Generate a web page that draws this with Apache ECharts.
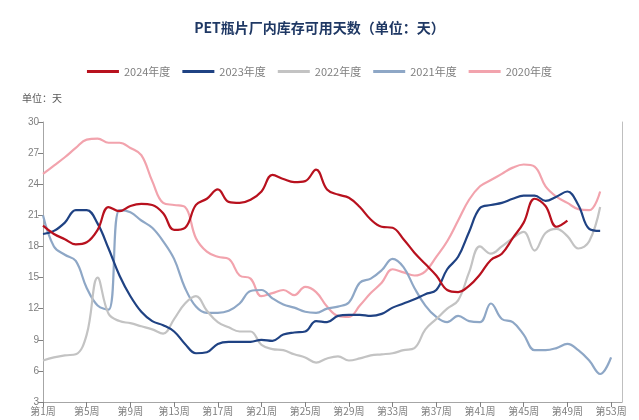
<!DOCTYPE html>
<html>
<head>
<meta charset="utf-8">
<title>PET瓶片厂内库存可用天数</title>
<script src="https://cdn.jsdelivr.net/npm/echarts@6/dist/echarts.min.js"></script>
<style>
  html, body { margin: 0; padding: 0; background: #fff; }
  #main { width: 639px; height: 420px; }
</style>
</head>
<body>
<div id="main"></div>
<script>
// 周次
var weeks = [];
for (var i = 1; i <= 54; i++) {
  weeks.push("第" + i + "周");
}

var yTicks = [3, 30, 3]; // min, max, interval

var s2024 = [20.0, 19.2, 18.7, 18.2, 18.4, 19.6, 21.8, 21.4, 21.9, 22.1,
  22.0, 21.2, 19.6, 19.8, 22.0, 22.6, 23.5, 22.3, 22.2, 22.5,
  23.3, 24.9, 24.5, 24.2, 24.3, 25.4, 23.5, 23.0, 22.7, 21.8,
  20.6, 19.9, 19.8, 18.7, 17.4, 16.3, 15.2, 13.8, 13.6, 14.2,
  15.3, 16.7, 17.3, 18.8, 20.3, 22.6, 21.9, 19.9, 20.5];

var s2023 = [19.2, 19.5, 20.3, 21.5, 21.5, 20.2, 17.8, 15.2, 13.2, 11.7,
  10.8, 10.4, 9.8, 8.6, 7.7, 7.8, 8.6, 8.8, 8.8, 8.8,
  9.0, 8.9, 9.5, 9.7, 9.8, 10.8, 10.7, 11.3, 11.4, 11.4,
  11.3, 11.5, 12.1, 12.5, 12.9, 13.4, 13.8, 15.8, 17.0, 19.4,
  21.7, 22.0, 22.2, 22.6, 22.9, 22.9, 22.4, 22.8, 23.3, 22.0,
  19.7, 19.5];

var s2022 = [7.0, 7.3, 7.5, 7.6, 9.5, 15.0, 11.5, 10.8, 10.6, 10.3,
  10.0, 9.6, 11.0, 12.5, 13.2, 11.8, 10.7, 10.2, 9.8, 9.8,
  8.5, 8.1, 8.0, 7.6, 7.3, 6.8, 7.2, 7.4, 7.0, 7.2,
  7.5, 7.6, 7.7, 8.0, 8.2, 10.0, 11.0, 12.0, 12.8, 15.5,
  18.0, 17.3, 18.0, 18.8, 19.4, 17.6, 19.3, 19.7, 19.0, 17.8,
  18.5, 21.8];

var s2021 = [21.0, 18.0, 17.2, 16.6, 14.0, 12.3, 11.9, 21.5, 21.3, 20.5,
  19.8, 18.5, 16.8, 14.0, 12.2, 11.6, 11.6, 11.8, 12.5, 13.7,
  13.8, 13.0, 12.4, 12.1, 11.7, 11.6, 12.0, 12.2, 12.6, 14.5,
  14.9, 15.7, 16.8, 16.0, 14.0, 12.3, 11.2, 10.7, 11.3, 10.8,
  10.7, 12.5, 11.0, 10.7, 9.5, 8.0, 8.0, 8.2, 8.6, 8.0,
  7.0, 5.7, 7.3];

var s2020 = [25.0, 25.8, 26.6, 27.5, 28.3, 28.4, 28.0, 28.0, 27.5, 26.8,
  24.3, 22.2, 22.0, 21.8, 18.8, 17.5, 17.0, 16.8, 15.2, 14.9,
  13.2, 13.5, 13.8, 13.3, 14.1, 13.6, 12.2, 11.3, 11.2, 12.3,
  13.5, 14.5, 15.8, 15.5, 15.2, 15.6, 17.0, 18.5, 20.5, 22.5,
  23.8, 24.4, 25.0, 25.6, 25.9, 25.7, 23.8, 22.8, 22.2, 21.6,
  21.5, 23.3];

var names = ["2024年度", "2023年度", "2022年度", "2021年度", "2020年度"];
var colors = ["#b8111e", "#1f4283", "#c3c3c3", "#8ea7c6", "#f2a3ad"];
var lists = [s2024, s2023, s2022, s2021, s2020];

var series = [];
for (var k = lists.length - 1; k >= 0; k--) {
  series.push({
    name: names[k],
    type: "line",
    data: lists[k],
    smooth: 0.4,
    showSymbol: false,
    symbol: "none",
    z: 10 - k,
    lineStyle: { color: colors[k], width: 2.2 },
    itemStyle: { color: colors[k] }
  });
}

var myChart = echarts.init(document.getElementById("main"));
var option = {
  animation: false,
  title: {
    text: "PET瓶片厂内库存可用天数（单位：天）",
    left: "center",
    top: 16,
    textStyle: {
      color: "#1f3864",
      fontSize: 14,
      fontWeight: "bold",
      fontFamily: "Noto Sans CJK SC"
    }
  },
  legend: {
    data: names,
    top: 61,
    left: "center",
    icon: "rect",
    itemWidth: 32,
    itemHeight: 3,
    itemGap: 12,
    textStyle: { color: "#7f7f7f", fontSize: 11, fontFamily: "Noto Sans CJK SC" }
  },
  graphic: [{
    type: "text",
    left: 22,
    top: 93,
    style: { text: "单位：天", fill: "#595959", fontSize: 10, fontFamily: "Noto Sans CJK SC" }
  }],
  grid: { left: 43, right: 17, top: 122, bottom: 18 },
  xAxis: {
    type: "category",
    data: weeks,
    boundaryGap: false,
    axisLine: { lineStyle: { color: "#a6a6a6" } },
    axisTick: { interval: 3, lineStyle: { color: "#808080" } },
    axisLabel: {
      interval: 3,
      color: "#7f7f7f",
      fontSize: 10,
      margin: 4,
      fontFamily: "Noto Sans CJK SC"
    }
  },
  yAxis: [{
    type: "value",
    min: yTicks[0],
    max: yTicks[1],
    interval: yTicks[2],
    splitLine: { show: false },
    axisLine: { show: true, lineStyle: { color: "#a6a6a6" } },
    axisTick: { show: true, lineStyle: { color: "#808080" } },
    axisLabel: { color: "#7f7f7f", fontSize: 10, margin: 4 }
  }, {
    type: "value",
    position: "right",
    min: yTicks[0],
    max: yTicks[1],
    splitLine: { show: false },
    axisLine: { show: true, lineStyle: { color: "#bfbfbf" } },
    axisTick: { show: false },
    axisLabel: { show: false }
  }],
  series: series
};
myChart.setOption(option);
</script>
</body>
</html>
